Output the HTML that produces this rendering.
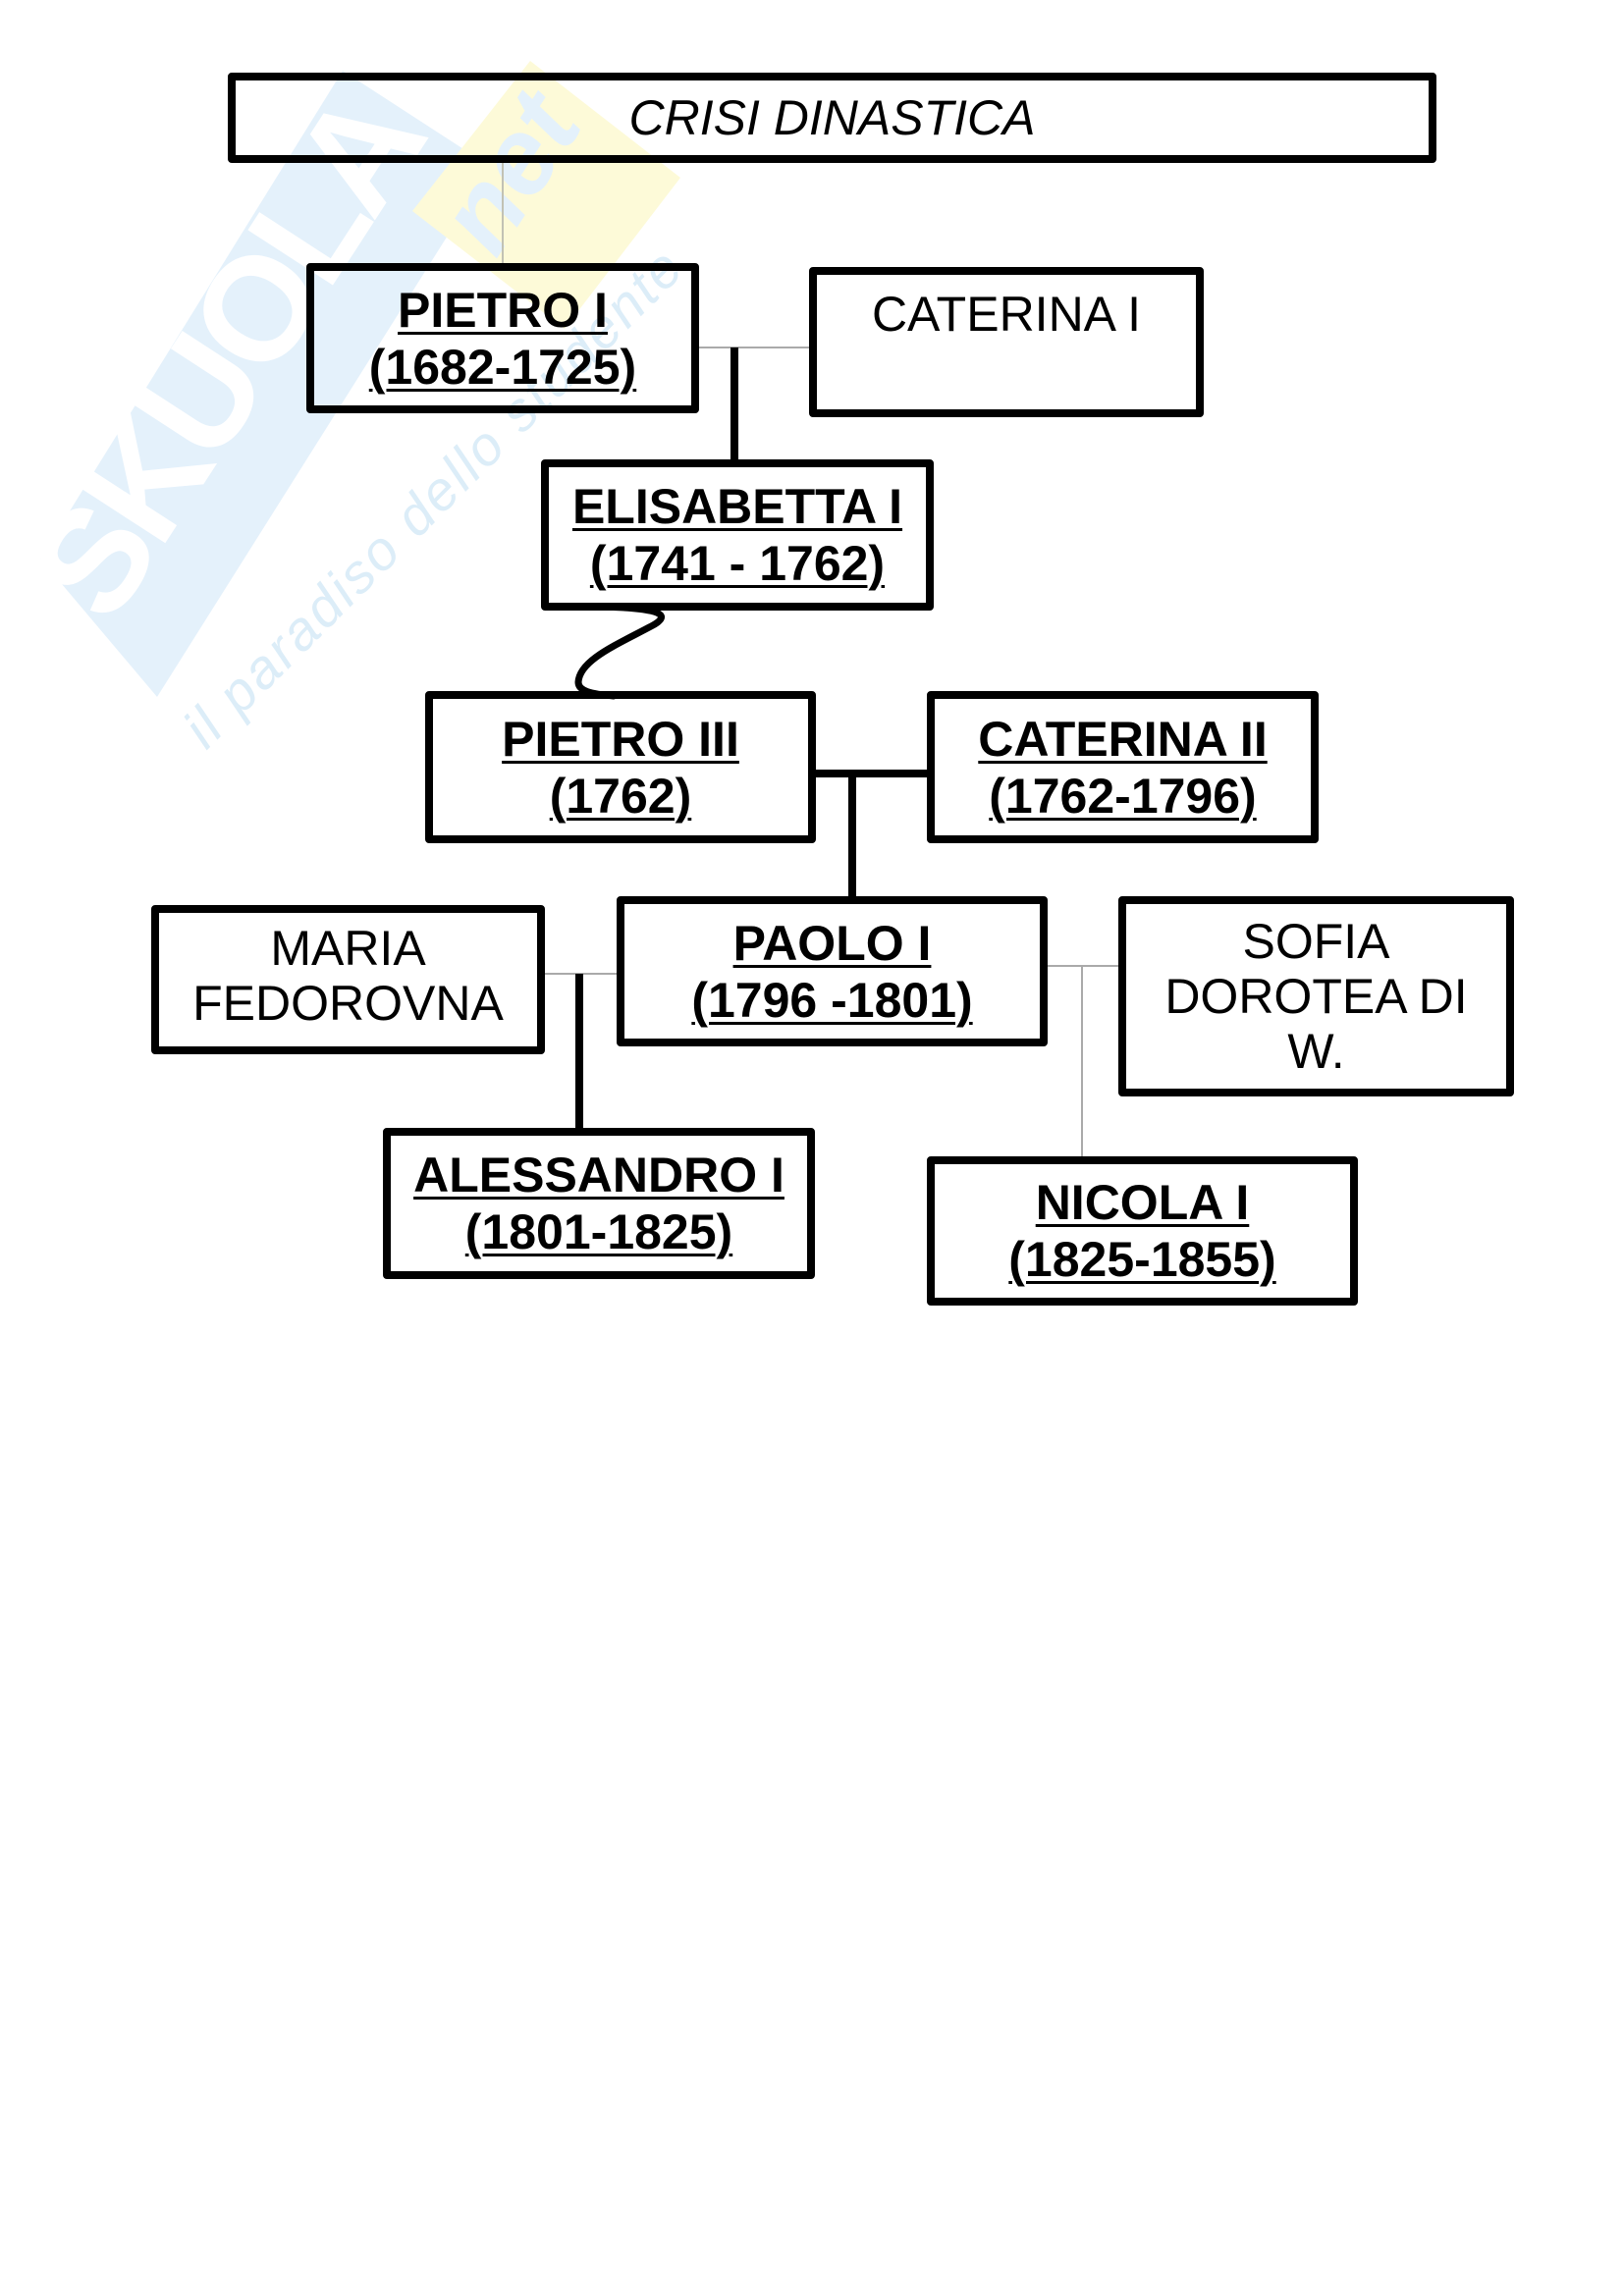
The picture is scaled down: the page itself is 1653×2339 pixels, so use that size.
<!DOCTYPE html>
<html>
<head>
<meta charset="utf-8">
<style>
  html, body { margin:0; padding:0; background:#fff; }
  body { width:1653px; height:2339px; position:relative; overflow:hidden; }
  svg.bg { position:absolute; left:0; top:0; }
  .box {
    position:absolute; box-sizing:border-box;
    border:8px solid #000; border-radius:4px;
    display:flex; align-items:center; justify-content:center;
    text-align:center; color:#000;
    font-family:"Liberation Sans", Arial, sans-serif;
    font-size:50px; line-height:58px;
  }
  .b { font-weight:bold; text-decoration:underline; text-decoration-thickness:3px; text-underline-offset:5px; }
  .r { line-height:56px; }
  .title { font-style:italic; line-height:58px; }
</style>
</head>
<body>
<svg class="bg" width="1653" height="2339" viewBox="0 0 1653 2339" xmlns="http://www.w3.org/2000/svg">
  <!-- watermark -->
  <polygon points="41,569 349,72 500,170 160,710" fill="#e4f1fb"/>
  <polygon points="420,215 540,62 693,181 575,335" fill="#fdfad8"/>
  <text x="0" y="0" transform="translate(112,640) rotate(-57)" font-family="Liberation Sans, sans-serif" font-weight="bold" font-size="150" fill="#ffffff" textLength="600">SKUOLA</text>
  <text x="0" y="0" transform="translate(505,265) rotate(-57)" font-family="Liberation Sans, sans-serif" font-weight="bold" font-style="italic" font-size="110" fill="#e4f1fb">net</text>
  <text x="0" y="0" transform="translate(210,765) rotate(-45)" font-family="Liberation Sans, sans-serif" font-style="italic" font-size="56" fill="#dcedf8" textLength="690">il paradiso dello studente</text>

  <!-- thin gray connectors -->
  <line x1="512" y1="166" x2="512" y2="268" stroke="#c2c2b4" stroke-width="2"/>
  <line x1="712" y1="354" x2="824" y2="354" stroke="#aaaaaa" stroke-width="2"/>
  <line x1="555" y1="992" x2="628" y2="992" stroke="#aaaaaa" stroke-width="2"/>
  <line x1="1067" y1="984" x2="1139" y2="984" stroke="#aaaaaa" stroke-width="2"/>
  <line x1="1102" y1="984" x2="1102" y2="1178" stroke="#aaaaaa" stroke-width="2"/>

  <!-- thick connectors -->
  <line x1="748" y1="354" x2="748" y2="470" stroke="#000" stroke-width="8"/>
  <line x1="829" y1="788" x2="946" y2="788" stroke="#000" stroke-width="8"/>
  <line x1="868" y1="788" x2="868" y2="915" stroke="#000" stroke-width="8"/>
  <line x1="590" y1="992" x2="590" y2="1151" stroke="#000" stroke-width="8"/>

  <!-- wavy connector -->
  <path d="M 612,618 C 650,619 692,622 665,637 C 630,656 590,672 589,695 C 589,704 602,707 625,709" fill="none" stroke="#000" stroke-width="7" stroke-linecap="round"/>
</svg>

<div class="box title" style="left:232px;top:74px;width:1231px;height:92px;">CRISI DINASTICA</div>

<div class="box" style="left:312px;top:268px;width:400px;height:153px;"><div class="b">PIETRO I<br>(1682-1725)</div></div>
<div class="box" style="left:824px;top:272px;width:402px;height:153px;"><div>CATERINA I<br>&nbsp;</div></div>

<div class="box" style="left:551px;top:468px;width:400px;height:154px;"><div class="b">ELISABETTA I<br>(1741 - 1762)</div></div>

<div class="box" style="left:433px;top:704px;width:398px;height:155px;"><div class="b">PIETRO III<br>(1762)</div></div>
<div class="box" style="left:944px;top:704px;width:399px;height:155px;"><div class="b">CATERINA II<br>(1762-1796)</div></div>

<div class="box r" style="left:154px;top:922px;width:401px;height:152px;"><div style="margin-top:-8px;">MARIA<br>FEDOROVNA</div></div>
<div class="box" style="left:628px;top:913px;width:439px;height:153px;"><div class="b">PAOLO I<br>(1796 -1801)</div></div>
<div class="box r" style="left:1139px;top:913px;width:403px;height:204px;"><div>SOFIA<br>DOROTEA DI<br>W.</div></div>

<div class="box" style="left:390px;top:1149px;width:440px;height:154px;"><div class="b">ALESSANDRO I<br>(1801-1825)</div></div>
<div class="box" style="left:944px;top:1178px;width:439px;height:152px;"><div class="b">NICOLA I<br>(1825-1855)</div></div>
</body>
</html>
